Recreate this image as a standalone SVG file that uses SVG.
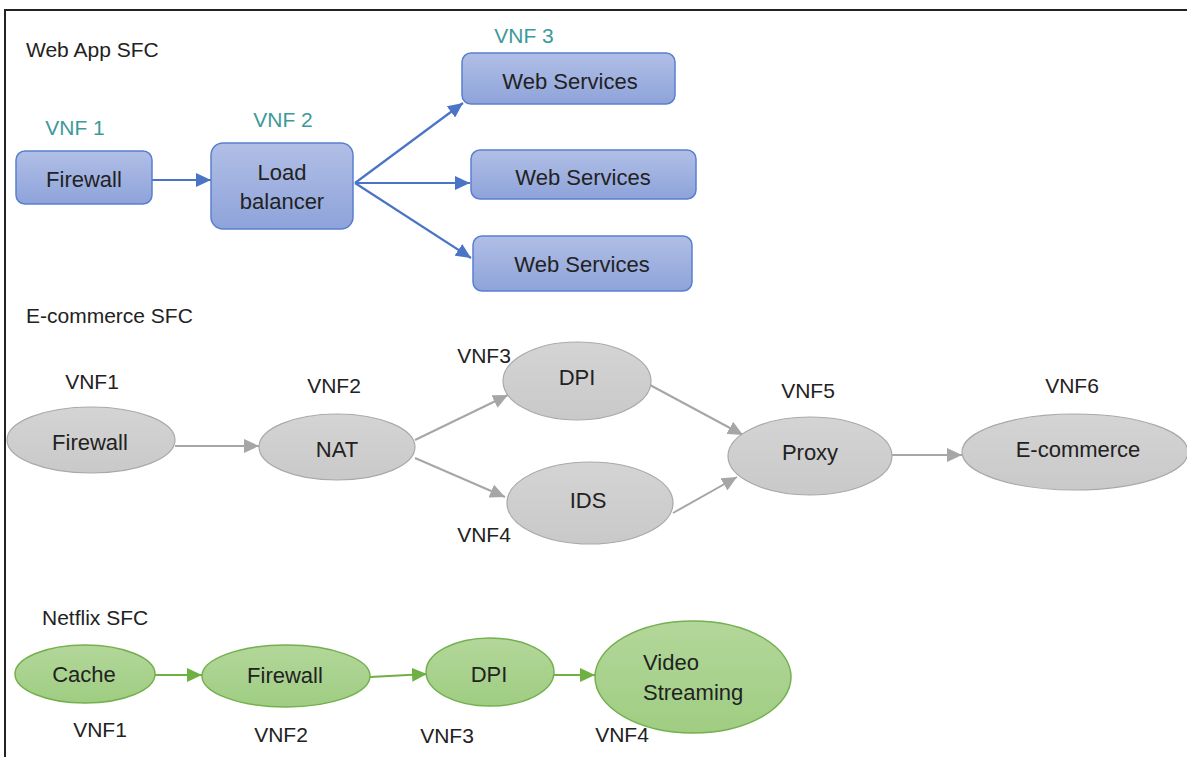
<svg xmlns="http://www.w3.org/2000/svg" width="1187" height="757" viewBox="0 0 1187 757">
<style>
text{font-family:"Liberation Sans",Arial,sans-serif;fill:#222;font-size:21px}
.c{text-anchor:middle}
.n{font-size:22px}
.teal{fill:#3c9a98}
.box{fill:url(#gb);stroke:#5a7fcf;stroke-width:1.5}
.gry{fill:url(#gg);stroke:#a9a9a9;stroke-width:1.2}
.grn{fill:url(#gn);stroke:#74b04e;stroke-width:1.5}
.ab{stroke:#4a74c6;stroke-width:2.2;fill:none}
.ag{stroke:#a6a6a6;stroke-width:2;fill:none}
.an{stroke:#6fb043;stroke-width:2.2;fill:none}
</style>
<defs>
<linearGradient id="gb" x1="0" y1="0" x2="0" y2="1"><stop offset="0" stop-color="#b1bfe6"/><stop offset="1" stop-color="#8ea3da"/></linearGradient>
<linearGradient id="gg" x1="0" y1="0" x2="0" y2="1"><stop offset="0" stop-color="#d4d4d4"/><stop offset="1" stop-color="#c9c9c9"/></linearGradient>
<linearGradient id="gn" x1="0" y1="0" x2="0" y2="1"><stop offset="0" stop-color="#b3d79a"/><stop offset="1" stop-color="#9fcd82"/></linearGradient>
<marker id="mb" markerUnits="userSpaceOnUse" markerWidth="16" markerHeight="14" refX="15" refY="7" orient="auto"><path d="M0,0 L15,7 L0,14 z" fill="#4a74c6"/></marker>
<marker id="mg" markerUnits="userSpaceOnUse" markerWidth="16" markerHeight="14" refX="15" refY="7" orient="auto"><path d="M0,0 L15,7 L0,14 z" fill="#a6a6a6"/></marker>
<marker id="mn" markerUnits="userSpaceOnUse" markerWidth="16" markerHeight="14" refX="15" refY="7" orient="auto"><path d="M0,0 L15,7 L0,14 z" fill="#6fb043"/></marker>
</defs>
<rect width="1187" height="757" fill="#fff"/>
<path d="M5,757 V10 H1187" fill="none" stroke="#222" stroke-width="2"/>

<text x="26" y="57">Web App SFC</text>
<text x="26" y="323">E-commerce SFC</text>
<text x="42" y="625">Netflix SFC</text>

<g id="connectors">
<line class="ab" x1="152" y1="180" x2="211" y2="180" marker-end="url(#mb)"/>
<line class="ab" x1="355" y1="183" x2="463" y2="103" marker-end="url(#mb)"/>
<line class="ab" x1="355" y1="183" x2="470" y2="183" marker-end="url(#mb)"/>
<line class="ab" x1="355" y1="183" x2="471" y2="258" marker-end="url(#mb)"/>
<line class="ag" x1="175" y1="446" x2="259" y2="446" marker-end="url(#mg)"/>
<line class="ag" x1="415" y1="440" x2="508" y2="395" marker-end="url(#mg)"/>
<line class="ag" x1="415" y1="458" x2="505" y2="497" marker-end="url(#mg)"/>
<line class="ag" x1="650" y1="385" x2="743" y2="435" marker-end="url(#mg)"/>
<line class="ag" x1="673" y1="513" x2="737" y2="477" marker-end="url(#mg)"/>
<line class="ag" x1="892" y1="455" x2="962" y2="455" marker-end="url(#mg)"/>
<line class="an" x1="155" y1="675" x2="202" y2="675" marker-end="url(#mn)"/>
<line class="an" x1="370" y1="677" x2="427" y2="674" marker-end="url(#mn)"/>
<line class="an" x1="553" y1="675" x2="595" y2="675" marker-end="url(#mn)"/>
</g>

<g id="w-fw"><text class="c teal" x="75" y="135">VNF 1</text><rect class="box" x="16" y="151" width="136" height="53" rx="9"/><text class="c n" x="84" y="187">Firewall</text></g>
<g id="w-lb"><text class="c teal" x="283" y="127">VNF 2</text><rect class="box" x="211" y="143" width="142" height="86" rx="12"/><text class="c n" x="282" y="180">Load</text><text class="c n" x="282" y="209">balancer</text></g>
<g id="w-ws1"><text class="c teal" x="524" y="43">VNF 3</text><rect class="box" x="462" y="53" width="213" height="51" rx="9"/><text class="c n" x="570" y="89">Web Services</text></g>
<g id="w-ws2"><rect class="box" x="471" y="150" width="225" height="49" rx="9"/><text class="c n" x="583" y="185">Web Services</text></g>
<g id="w-ws3"><rect class="box" x="473" y="236" width="219" height="55" rx="9"/><text class="c n" x="582" y="272">Web Services</text></g>

<g id="e-fw"><text class="c" x="92" y="389">VNF1</text><ellipse class="gry" cx="91" cy="440" rx="84" ry="33"/><text class="c n" x="90" y="450">Firewall</text></g>
<g id="e-nat"><text class="c" x="334" y="393">VNF2</text><ellipse class="gry" cx="337" cy="447" rx="78" ry="33"/><text class="c n" x="337" y="457">NAT</text></g>
<g id="e-dpi"><text class="c" x="484" y="363">VNF3</text><ellipse class="gry" cx="577" cy="381" rx="74" ry="39"/><text class="c n" x="577" y="385">DPI</text></g>
<g id="e-ids"><text class="c" x="484" y="542">VNF4</text><ellipse class="gry" cx="590" cy="503" rx="83" ry="41"/><text class="c n" x="588" y="508">IDS</text></g>
<g id="e-proxy"><text class="c" x="808" y="398">VNF5</text><ellipse class="gry" cx="810" cy="456" rx="82" ry="39"/><text class="c n" x="810" y="460">Proxy</text></g>
<g id="e-ecom"><text class="c" x="1072" y="393">VNF6</text><ellipse class="gry" cx="1075" cy="452" rx="113" ry="38"/><text class="c n" x="1078" y="457">E-commerce</text></g>

<g id="n-cache"><ellipse class="grn" cx="85" cy="674" rx="70" ry="29"/><text class="c n" x="84" y="682">Cache</text><text class="c" x="100" y="737">VNF1</text></g>
<g id="n-fw"><ellipse class="grn" cx="286" cy="676" rx="84" ry="31"/><text class="c n" x="285" y="683">Firewall</text><text class="c" x="281" y="742">VNF2</text></g>
<g id="n-dpi"><ellipse class="grn" cx="490" cy="672" rx="64" ry="34"/><text class="c n" x="489" y="682">DPI</text><text class="c" x="447" y="743">VNF3</text></g>
<g id="n-video"><ellipse class="grn" cx="693" cy="677" rx="98" ry="56"/><text class="n" x="643" y="670">Video</text><text class="n" x="643" y="700">Streaming</text><text class="c" x="622" y="742">VNF4</text></g>
</svg>
